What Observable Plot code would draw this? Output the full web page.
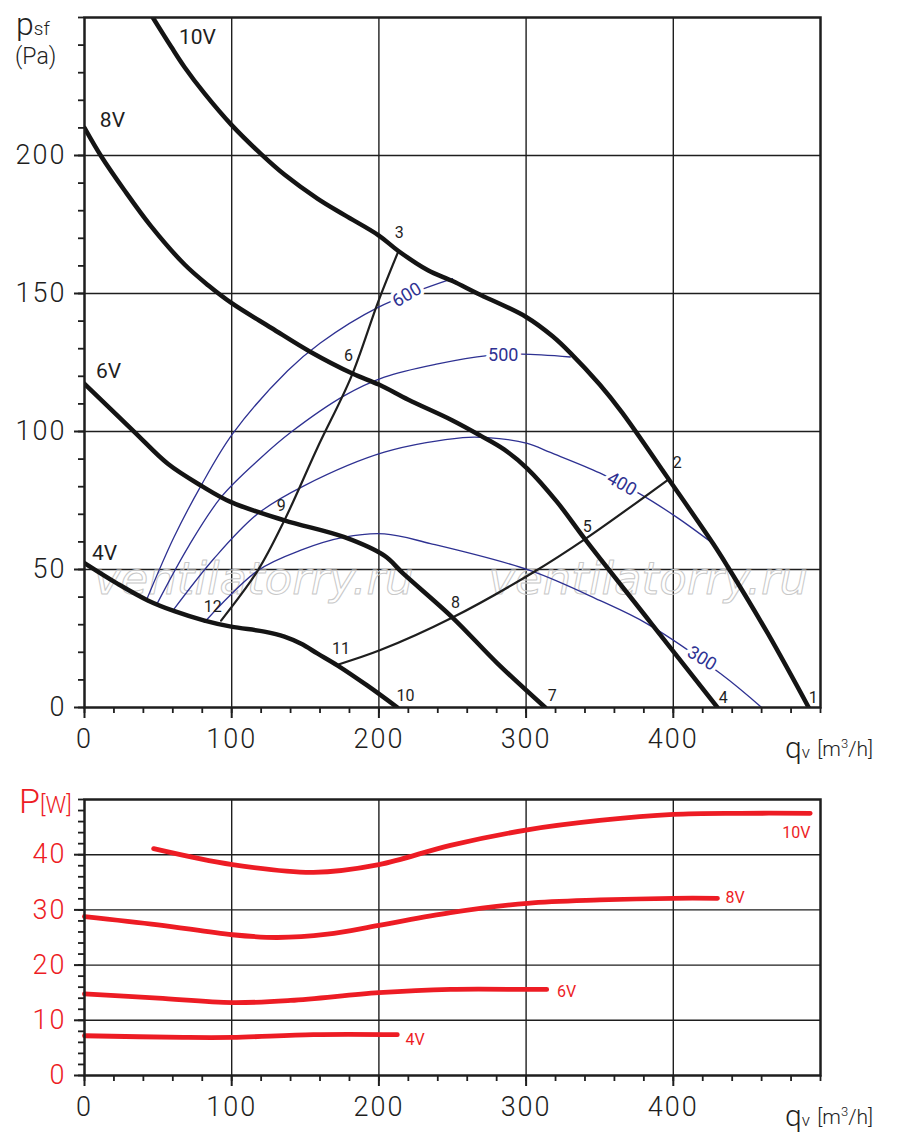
<!DOCTYPE html>
<html><head><meta charset="utf-8">
<script src="https://cdn.jsdelivr.net/npm/d3@7"></script>
<script src="https://cdn.jsdelivr.net/npm/@observablehq/plot@0.6"></script>
<style>
body{margin:0;background:#fff;font-family:Roboto,"Liberation Sans",sans-serif;}
#wrap{position:relative;width:900px;height:1147px;}
#wrap svg{display:block;}
.lbl{position:absolute;white-space:nowrap;line-height:1;}
</style></head><body>
<div id="wrap">
  <div id="top"></div>
  <div id="bottom"></div>
  <div class="lbl" style="left:16px;top:8px;font-size:32px;color:#222;font-weight:300;">p<span style="font-size:19px;">sf</span></div>
  <div class="lbl" style="left:15px;top:45px;font-size:23px;color:#222;font-weight:300;">(Pa)</div>
  <div class="lbl" style="left:785px;top:733px;font-size:30px;color:#222;font-weight:300;">q<span style="font-size:17px;">v</span> <span style="font-size:21px;position:relative;top:-2px;">[m<sup style="font-size:13px;">3</sup>/h]</span></div>
  <div class="lbl" style="left:785px;top:1101px;font-size:30px;color:#222;font-weight:300;">q<span style="font-size:17px;">v</span> <span style="font-size:21px;position:relative;top:-2px;">[m<sup style="font-size:13px;">3</sup>/h]</span></div>
  <div class="lbl" style="left:19px;top:784px;font-size:34px;color:#ed1c24;font-weight:300;">P<span style="font-size:23px;">[W]</span></div>
</div>
<script>
// ---------- pressure chart data (qv m3/h, psf Pa) ----------
const fan10V = [[46.4,250],[59,239.3],[68,232],[81.5,222.5],[100,211],[120,200.5],[136,193],[158.5,184.3],[177,178.3],[200,171],[213,165.5],[233,158.5],[250,154.5],[267,150],[300,141.5],[318,134.5],[330,128.5],[350,117],[365,107],[397,82.6],[427,59.4],[437,51],[464,27],[492,0]];
const fan8V = [[0,210],[11,200],[27,187.5],[45,174.5],[68,160.5],[84,153],[100,146.5],[127,137.5],[153,129],[182,121],[200,117],[220,111.5],[250,104],[269,98.5],[285,93.5],[301,86.5],[321,74.5],[340,61],[385,30.5],[430,0]];
const fan6V = [[0,117.3],[34,99.8],[56.6,88.3],[79.2,80.4],[99.6,74.4],[135.8,67.8],[176.6,61.7],[203.7,55],[216.6,48.5],[250,32.6],[280.5,16],[313,0]];
const fan4V = [[0,52.3],[22.6,44.8],[43,38.8],[61.1,34.9],[81.5,31.5],[99.6,29.3],[122.2,27.5],[135.8,25.7],[147.2,23.1],[158.4,19.5],[172,15.2],[192,8],[212.6,0]];
const fanNames = ["10V","8V","6V","4V"];
const fanLabelPos = [[76.7,242.8],[19,212.7],[16.3,122],[13.6,55.8]];

const system12to3 = [[92.8,31.5],[117.7,49.6],[135.8,67.8],[158.4,94.3],[181.1,119.7],[199.5,147],[213,165]];
const system11to2 = [[172.5,15.6],[201,20.8],[250,32.6],[305,49],[340,61],[396.6,82.6]];

const iso600 = [[42,38.8],[60.6,61.5],[79.2,80.4],[100.7,99.2],[138,122],[160,132],[199.5,145],[250,155.4]];
const iso500 = [[48.7,37],[70.8,58.5],[92.8,76.2],[119.5,90.3],[140.4,99.8],[176.6,113],[203.7,119.7],[240,124.5],[273.7,127.5],[297,128],[330,127]];
const iso400 = [[60,35.1],[88,54],[117.7,70.2],[149.4,80.4],[203.7,92.5],[257,97.8],[273.7,97.8],[300.8,95.7],[316.5,92.4],[350,85],[377,77.5],[402.7,68.8],[427,59.4]];
const iso300 = [[81.5,30.9],[117.7,49.6],[147,57],[176.6,61.7],[203.7,62.9],[235,59.4],[303,49.6],[350,38.8],[382,30.4],[432,12.3],[460,0]];
const isoLabels = ["600","500","400","300"];
const isoLabelPos = [[219,149.5,-31],[284.5,127.5,0],[365,81,29],[419.5,17.8,31]];

const pointNumbers = ["1","2","3","4","5","6","7","8","9","10","11","12"];
const pointPos = [[495,3.6],[402.7,88.8],[213.9,172],[433.9,3.6],[341.6,65.6],[179.3,127.5],[317.8,4.3],[252,38],[133.6,73.2],[218,4.3],[174.3,21.3],[87.1,36.3]];

const xMajorTicks = [0,100,200,300,400];
const yMajorTicksTop = [0,50,100,150,200];
const watermarkText = "ventilatorry.ru";
const watermarkPos = [[115,46.5],[383,46.5]];

// ---------- power chart data (qv m3/h, P W) ----------
const power10V = [[47,41.1],[100.5,38.2],[155.5,36.8],[200,38.2],[248.6,41.7],[300.8,44.5],[350,46.2],[400,47.3],[445.5,47.5],[493,47.5]];
const power8V = [[0,28.8],[50,27.3],[100.5,25.5],[131,25],[165,25.6],[200,27.2],[248.6,29.5],[300.8,31.2],[350,31.8],[400,32.1],[430,32.1]];
const power6V = [[0,14.8],[50,14],[100.5,13.2],[140,13.6],[200,15],[248.6,15.6],[300.8,15.6],[314,15.6]];
const power4V = [[0,7.2],[67,6.9],[100.5,6.9],[155.5,7.4],[212.5,7.4]];
const powerLabelPos = [[474,44],[435.5,32.2],[321,15.2],[218,6.5]];
const yMajorTicksBottom = [0,10,20,30,40];

// ---------- styles ----------
const INK = "#1e1e1e", BLUE = "#2e3192", RED = "#ed1c24";
const FONT = "Roboto, 'Liberation Sans', sans-serif";
const X = d => d[0], Y = d => d[1];
const CURVE = "catmull-rom";

function xAxes() {
  return [
    Plot.axisX(d3.range(0, 501, 20), {tickSize: 6, tickFormat: () => "", strokeWidth: 1.8, stroke: INK, label: null}),
    Plot.axisX(xMajorTicks, {tickSize: 11, tickPadding: 10, strokeWidth: 2, stroke: INK, fill: INK, fontSize: 27, fontWeight: 300, label: null})
  ];
}

const topChart = Plot.plot({
  width: 900, height: 770,
  marginLeft: 84, marginRight: 80, marginTop: 17, marginBottom: 63,
  style: {fontFamily: FONT, background: "transparent", overflow: "visible"},
  x: {domain: [0, 500]},
  y: {domain: [0, 250]},
  marks: [
    Plot.gridX([100,200,300,400], {stroke: INK, strokeOpacity: 1, strokeWidth: 1.4}),
    Plot.gridY([50,100,150,200], {stroke: INK, strokeOpacity: 1, strokeWidth: 1.4}),
    Plot.text(watermarkPos, {x: X, y: Y, text: () => watermarkText, fontSize: 45, fontStyle: "italic", fontFamily: "'DejaVu Sans', sans-serif", fill: "none", stroke: "#c8c8c8", strokeWidth: 1}),
    ...xAxes(),
    Plot.axisY(d3.range(0, 251, 10), {tickSize: 6, tickFormat: () => "", strokeWidth: 1.8, stroke: INK, label: null}),
    Plot.axisY(yMajorTicksTop, {tickSize: 10, tickPadding: 8, strokeWidth: 2, stroke: INK, fill: INK, fontSize: 27, fontWeight: 300, label: null}),
    // iso lines
    ...[iso600, iso500, iso400, iso300].map(d => Plot.line(d, {x: X, y: Y, stroke: BLUE, strokeWidth: 1.3, curve: CURVE})),
    Plot.text(isoLabels, {x: (d,i) => isoLabelPos[i][0], y: (d,i) => isoLabelPos[i][1], rotate: (d,i) => isoLabelPos[i][2], text: d => d, fill: BLUE, stroke: "white", strokeWidth: 7, fontSize: 18}),
    // system curves
    Plot.line(system12to3, {x: X, y: Y, stroke: INK, strokeWidth: 2.2, curve: CURVE}),
    Plot.line(system11to2, {x: X, y: Y, stroke: INK, strokeWidth: 2.2, curve: CURVE}),
    // fan curves
    ...[fan10V, fan8V, fan6V, fan4V].map(d => Plot.line(d, {x: X, y: Y, stroke: "#141414", strokeWidth: 4.5, curve: CURVE, clip: "frame"})),
    Plot.text(fanNames, {x: (d,i) => fanLabelPos[i][0], y: (d,i) => fanLabelPos[i][1], text: d => d, fill: INK, fontSize: 21}),
    Plot.text(pointNumbers, {x: (d,i) => pointPos[i][0], y: (d,i) => pointPos[i][1], text: d => d, fill: INK, fontSize: 16}),
    Plot.frame({stroke: INK, strokeWidth: 2.5})
  ]
});

const bottomChart = Plot.plot({
  width: 900, height: 377,
  marginLeft: 84, marginRight: 80, marginTop: 29, marginBottom: 72,
  style: {fontFamily: FONT, background: "transparent", overflow: "visible"},
  x: {domain: [0, 500]},
  y: {domain: [0, 50]},
  marks: [
    Plot.gridX([100,200,300,400], {stroke: INK, strokeOpacity: 1, strokeWidth: 1.4}),
    Plot.gridY([10,20,30,40], {stroke: INK, strokeOpacity: 1, strokeWidth: 1.4}),
    ...xAxes(),
    Plot.axisY(d3.range(0, 51, 2), {tickSize: 6, tickFormat: () => "", strokeWidth: 1.8, stroke: INK, label: null}),
    Plot.axisY(yMajorTicksBottom, {tickSize: 10, tickPadding: 8, strokeWidth: 2, stroke: INK, fill: RED, fontSize: 27, fontWeight: 300, label: null}),
    ...[power10V, power8V, power6V, power4V].map(d => Plot.line(d, {x: X, y: Y, stroke: RED, strokeWidth: 4.8, strokeLinecap: "round", curve: CURVE})),
    Plot.text(fanNames, {x: (d,i) => powerLabelPos[i][0], y: (d,i) => powerLabelPos[i][1], text: d => d, fill: RED, fontSize: 16, textAnchor: "start"}),
    Plot.frame({stroke: INK, strokeWidth: 2.5})
  ]
});

for (const svg of [topChart, bottomChart]) {
  d3.select(svg).selectAll("g[aria-label='x-axis tick label'], g[aria-label='y-axis tick label']").attr("letter-spacing", "2px");
}

document.getElementById("top").appendChild(topChart);
document.getElementById("bottom").appendChild(bottomChart);
</script>
</body></html>
